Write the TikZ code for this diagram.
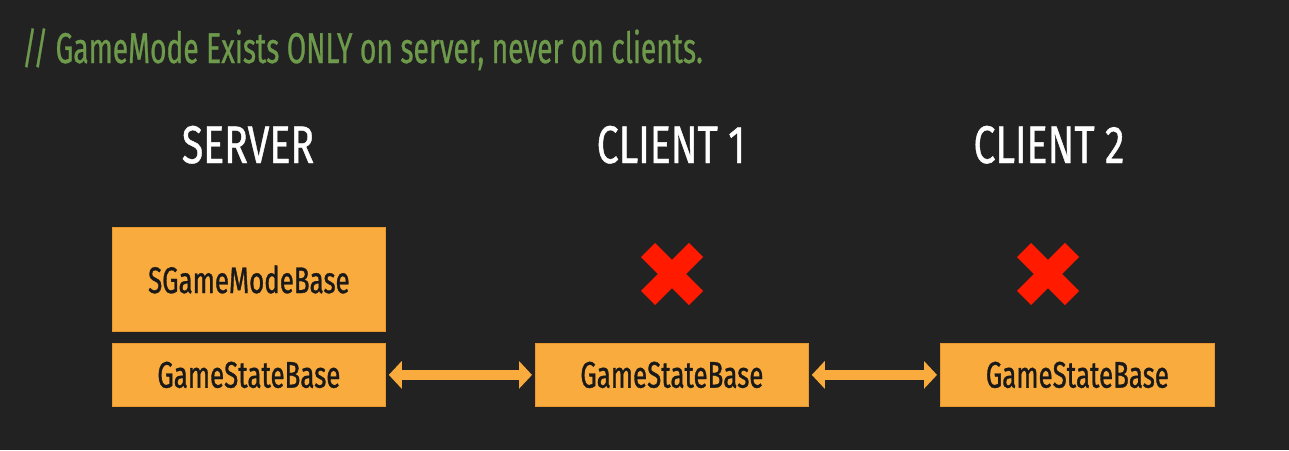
\documentclass[tikz,border=0pt]{standalone}
\usepackage{fontspec}
\usetikzlibrary{arrows.meta,calc}
\newfontfamily\cmtf[FakeStretch=0.655,FakeBold=0.6]{Fira Sans}
\newfontfamily\titf[FakeStretch=0.74,FakeBold=0.8]{Fira Sans}
\newfontfamily\boxf[FakeStretch=0.70,FakeBold=0.9]{Fira Sans}
\definecolor{bg}{HTML}{222222}
\definecolor{boxor}{HTML}{FAAB3E}
\definecolor{boxedge}{HTML}{E9982F}
\definecolor{cmtgreen}{HTML}{6E9A4B}
\definecolor{xred}{HTML}{FF1A00}
\tikzset{
  ubox/.style={fill=boxor, draw=boxedge, line width=0.8pt, inner sep=0pt, anchor=north west,
    font=\boxf\fontsize{37}{40}\selectfont, text=black!90},
  title/.style={font=\titf\fontsize{53}{56}\selectfont, text=white, anchor=base, inner sep=0pt},
  dbl/.style={draw=boxor, line width=10pt, shorten <=3pt, shorten >=3pt,
    {Triangle[length=13pt,width=27pt]}-{Triangle[length=13pt,width=27pt]}},
  redx/.style={draw=xred, line width=20pt, line cap=butt}
}
\begin{document}
\begin{tikzpicture}[x=1pt,y=-1pt]
\useasboundingbox[fill=bg] (0,0) rectangle (1289,450);
\node[font=\cmtf\fontsize{43}{46}\selectfont, text=cmtgreen, anchor=base west, inner sep=0pt] (cmt) at (22,63) {// GameMode Exists ONLY on server, never on clients.};
\node[title] (tserver) at (248,163) {SERVER};
\node[title] (tc1) at (671,163) {CLIENT 1};
\node[title] (tc2) at (1049,163) {CLIENT 2};
\node[ubox, minimum width=273pt, minimum height=104pt] (gm) at (112,227) {SGameModeBase};
\node[ubox, minimum width=273pt, minimum height=63pt] (gs0) at (112,343) {GameStateBase};
\node[ubox, minimum width=273pt, minimum height=63pt] (gs1) at (535,343) {GameStateBase};
\node[ubox, minimum width=274pt, minimum height=63pt] (gs2) at (940,343) {GameStateBase};
\draw[dbl] (gs0.east) -- (gs1.west);
\draw[dbl] (gs1.east) -- (gs2.west);
\coordinate (x1) at (672,274);
\coordinate (x2) at (1048,274);
\foreach \c in {x1,x2}{
  \draw[redx] ($(\c)+(-24,-24)$) -- ($(\c)+(24,24)$);
  \draw[redx] ($(\c)+(-24,24)$) -- ($(\c)+(24,-24)$);
}
\end{tikzpicture}
\end{document}
